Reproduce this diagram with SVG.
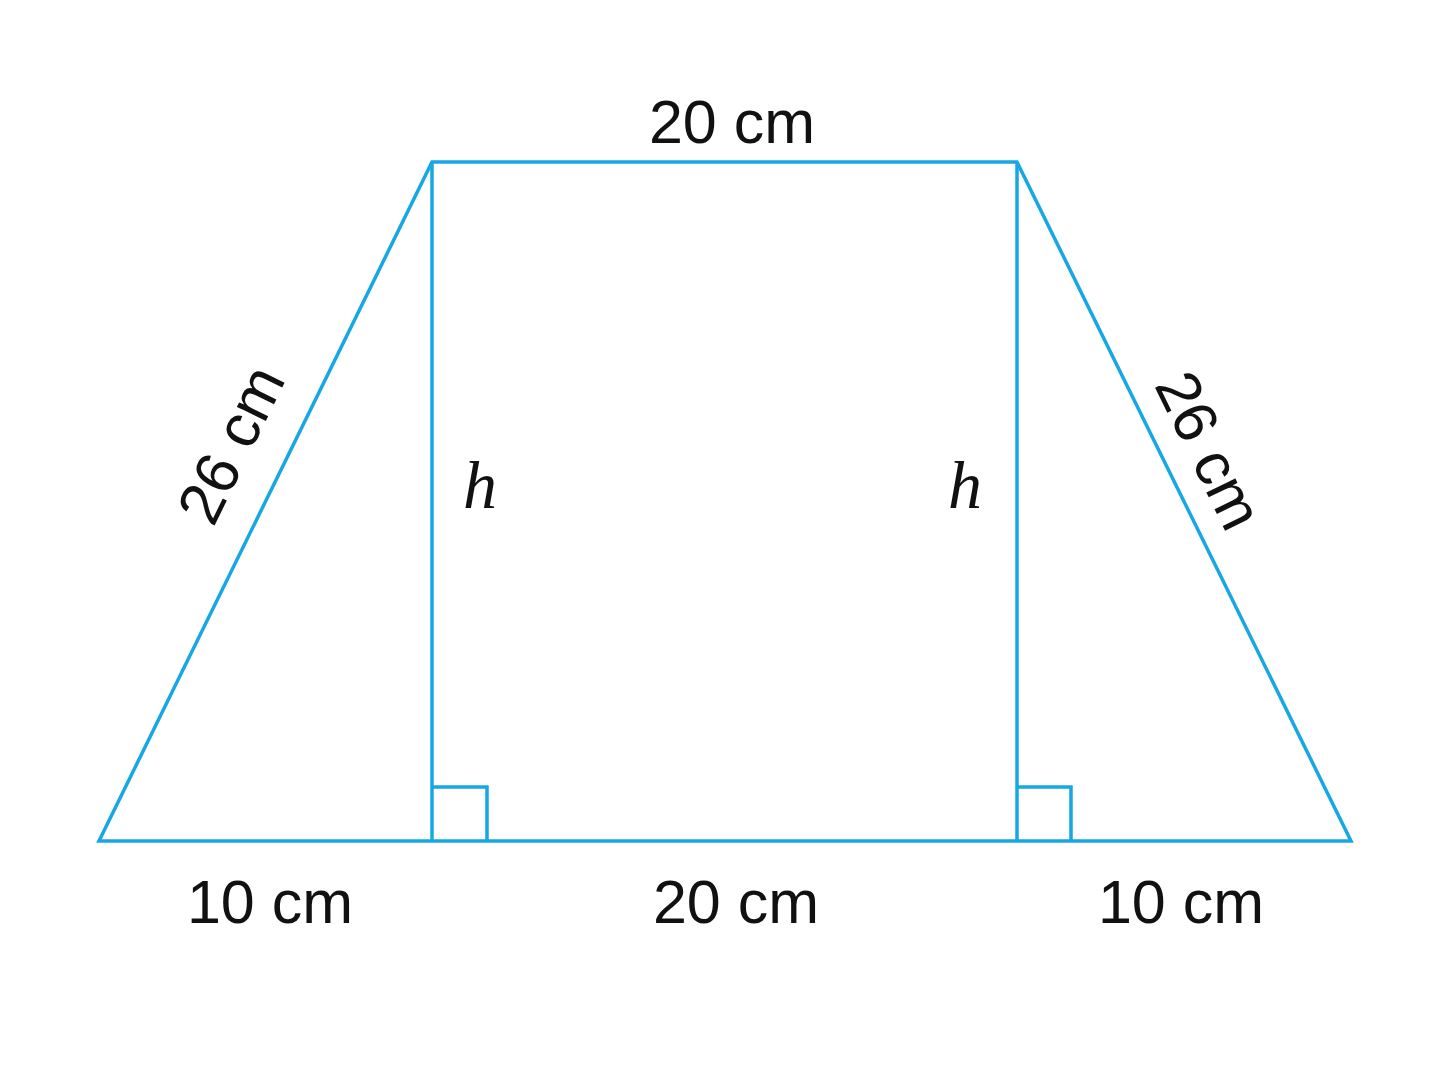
<svg xmlns="http://www.w3.org/2000/svg" width="1448" height="1086" viewBox="0 0 1448 1086">
<style>
.ln{fill:none;stroke:#17a7e4;stroke-width:3.5;stroke-linejoin:miter;stroke-linecap:butt}
.lb{font-family:"Liberation Sans",Arial,sans-serif;font-size:61px;fill:#111;text-anchor:middle}
.h{font-family:"Liberation Serif","Times New Roman",serif;font-style:italic;font-size:68px;fill:#111}
</style>
<rect width="1448" height="1086" fill="#fff"/>
<g id="shape">
<polygon class="ln" points="432,162 1017,162 1351,841 99,841"/>
<line class="ln" x1="432" y1="162" x2="432" y2="841"/>
<line class="ln" x1="1017" y1="162" x2="1017" y2="841"/>
<polyline class="ln" points="432,787 487,787 487,841"/>
<polyline class="ln" points="1017,787 1071,787 1071,841"/>
</g>
<g id="labels">
<text class="lb" x="732" y="143">20 cm</text>
<text class="lb" x="270" y="923">10 cm</text>
<text class="lb" x="736" y="923">20 cm</text>
<text class="lb" x="1181" y="923">10 cm</text>
<text class="lb" transform="translate(230,444) rotate(-63.9)" y="22">26 cm</text>
<text class="lb" transform="translate(1210,450) rotate(63.9)" y="22">26 cm</text>
<text class="h" x="463" y="508">h</text>
<text class="h" x="948" y="508">h</text>
</g>
</svg>
